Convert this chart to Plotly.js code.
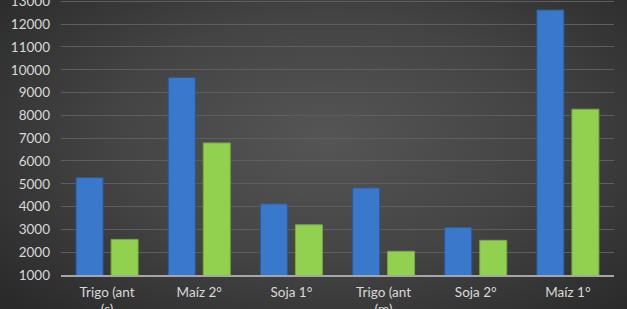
<!DOCTYPE html>
<html>
<head>
<meta charset="utf-8">
<script src="https://cdn.plot.ly/plotly-3.0.1.min.js"></script>
<style>
  html, body { margin: 0; padding: 0; width: 627px; height: 309px; overflow: hidden; }
  body { background: radial-gradient(ellipse 68% 78% at 52% 45%, #555555 0%, #444444 50%, #2a2a2a 100%); }
  #chart { width: 627px; height: 309px; }
</style>
</head>
<body>
<div id="chart"></div>
<script>
const categories = ["Trigo (ant<br>(s)", "Maíz 2°", "Soja 1°", "Trigo (ant<br>(m)", "Soja 2°", "Maíz 1°"];
const seriesBlue = [5270, 9660, 4120, 4820, 3090, 12620];
const seriesGreen = [2560, 6790, 3200, 2040, 2520, 8270];
const yTicks = [1000, 2000, 3000, 4000, 5000, 6000, 7000, 8000, 9000, 10000, 11000, 12000, 13000];

const traces = [
  {
    type: "bar", x: categories, y: seriesBlue, name: "Serie 1",
    marker: { color: "#3a78cc", line: { color: "#2a5a9e", width: 1 } }
  },
  {
    type: "bar", x: categories, y: seriesGreen, name: "Serie 2",
    marker: { color: "#92d050", line: { color: "#74ad38", width: 1 } }
  }
];

const layout = {
  width: 627, height: 309,
  margin: { l: 61, r: 13, t: 0, b: 34 },
  paper_bgcolor: "rgba(0,0,0,0)",
  plot_bgcolor: "rgba(0,0,0,0)",
  showlegend: false,
  barmode: "group",
  bargap: 0.24,
  bargroupgap: 0.23,
  font: { family: "Lato, 'Open Sans', sans-serif", size: 13.5, color: "#d9d9d9" },
  xaxis: {
    type: "category",
    showgrid: false,
    showline: true, linecolor: "#a6a6a6", linewidth: 1.5,
    ticks: "", ticklabelstandoff: 4,
    ticklabeloverflow: "allow",
    tickfont: { size: 13.5, color: "#d9d9d9" },
    fixedrange: true
  },
  yaxis: {
    range: [1000, 13060],
    tickvals: yTicks,
    ticktext: yTicks.map(String),
    showgrid: true, gridcolor: "#5e5e5e", gridwidth: 1,
    zeroline: false, showline: false,
    ticks: "", ticklabelstandoff: 10,
    ticklabeloverflow: "allow",
    tickfont: { size: 13.5, color: "#d9d9d9" },
    fixedrange: true
  }
};

Plotly.newPlot("chart", traces, layout, { displayModeBar: false, staticPlot: true });
</script>
</body>
</html>
